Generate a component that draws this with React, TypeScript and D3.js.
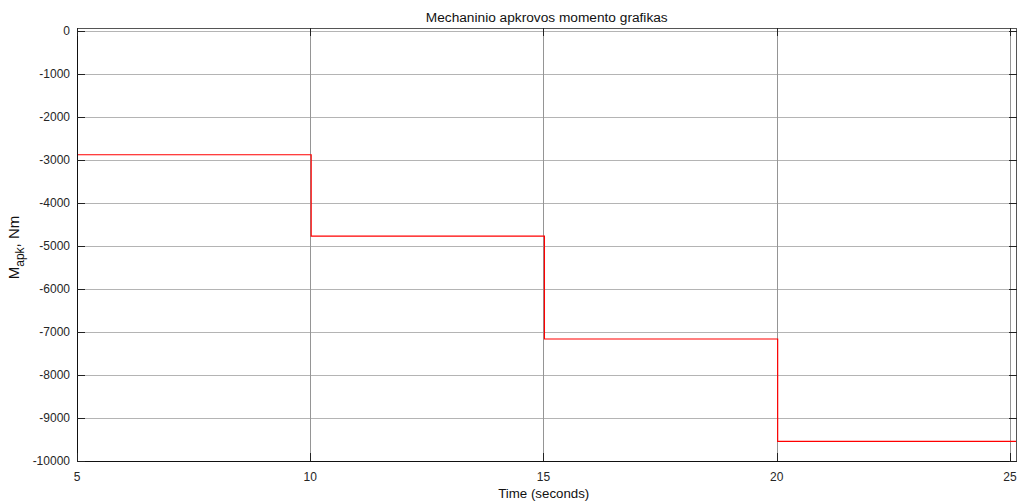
import React, { useEffect, useRef } from 'react';
import * as d3 from 'd3';

// Step load torque (Nm) over time (s)
const stepTimes = [5, 10.02, 15.02, 20.02, 25.14];
const torqueLevels = [-2885, -4775, -7165, -9545, -9545];
const xTicks = [5, 10, 15, 20, 25];
const yTicks = [0, -1000, -2000, -3000, -4000, -5000, -6000, -7000, -8000, -9000, -10000];
const xDomain = [5, 25.14];
const yDomain = [-10000, 60];

const titleText = 'Mechaninio apkrovos momento grafikas';
const xLabelText = 'Time (seconds)';

export default function App() {
  const ref = useRef<SVGSVGElement | null>(null);

  useEffect(() => {
    const svgEl = ref.current;
    if (!svgEl) return;
    const svg = d3.select(svgEl);
    svg.selectAll('*').remove();

    const width = 1019, height = 502;
    const left = 77, right = 1016.5, top = 28, bottom = 461;
    const font = '"Liberation Sans", Arial, sans-serif';

    const x = d3.scaleLinear().domain(xDomain).range([left, right]);
    const y = d3.scaleLinear().domain(yDomain).range([bottom, top]);

    svg.append('rect').attr('width', width).attr('height', height).attr('fill', '#fff');

    // Grid
    const grid = svg.append('g').attr('shape-rendering', 'crispEdges');
    grid.selectAll('.gy').data(yTicks).enter().append('line')
      .attr('x1', left).attr('x2', right)
      .attr('y1', d => Math.round(y(d)) + 0.5).attr('y2', d => Math.round(y(d)) + 0.5)
      .attr('stroke', '#b4b4b4').attr('stroke-width', 1);
    grid.selectAll('.gx').data(xTicks).enter().append('line')
      .attr('y1', top).attr('y2', bottom)
      .attr('x1', d => Math.round(x(d)) + 0.5).attr('x2', d => Math.round(x(d)) + 0.5)
      .attr('stroke', '#959595').attr('stroke-width', 1);

    // Data line
    const pts = stepTimes.map((t, i) => [t, torqueLevels[i]] as [number, number]);
    const line = d3.line<[number, number]>().x(d => x(d[0])).y(d => y(d[1])).curve(d3.curveStepAfter);
    svg.append('path').datum(pts).attr('fill', 'none').attr('stroke', '#ff0000').attr('stroke-width', 1.2).attr('d', line);

    // Box
    const box = svg.append('g').attr('shape-rendering', 'crispEdges');
    box.append('line').attr('x1', left).attr('x2', right).attr('y1', top + 0.5).attr('y2', top + 0.5).attr('stroke', '#555').attr('stroke-width', 1.5);
    box.append('line').attr('x1', right).attr('x2', right).attr('y1', top).attr('y2', bottom).attr('stroke', '#555').attr('stroke-width', 1.5);
    box.append('line').attr('x1', left).attr('x2', right).attr('y1', bottom + 0.5).attr('y2', bottom + 0.5).attr('stroke', '#111').attr('stroke-width', 1.2);
    box.append('line').attr('x1', left + 0.5).attr('x2', left + 0.5).attr('y1', top).attr('y2', bottom).attr('stroke', '#111').attr('stroke-width', 1.2);

    // Inward ticks
    const tl = 8;
    xTicks.forEach(t => {
      const xp = Math.round(x(t)) + 0.5;
      box.append('line').attr('x1', xp).attr('x2', xp).attr('y1', bottom).attr('y2', bottom - tl).attr('stroke', '#222');
      box.append('line').attr('x1', xp).attr('x2', xp).attr('y1', top).attr('y2', top + tl).attr('stroke', '#222');
    });
    yTicks.forEach(v => {
      const yp = Math.round(y(v)) + 0.5;
      box.append('line').attr('x1', left).attr('x2', left + tl).attr('y1', yp).attr('y2', yp).attr('stroke', '#222');
      box.append('line').attr('x1', right).attr('x2', right - tl).attr('y1', yp).attr('y2', yp).attr('stroke', '#222');
    });

    // Tick labels
    svg.selectAll('.xt').data(xTicks).enter().append('text')
      .attr('x', d => x(d)).attr('y', 480.5).attr('text-anchor', 'middle')
      .attr('font-family', font).attr('font-size', 12).attr('fill', '#262626')
      .text(d => String(d));
    svg.selectAll('.yt').data(yTicks).enter().append('text')
      .attr('x', 70).attr('y', d => y(d) + 4.2).attr('text-anchor', 'end')
      .attr('font-family', font).attr('font-size', 12).attr('fill', '#262626')
      .text(d => String(d));

    // Title and axis labels
    svg.append('text').attr('x', (left + right) / 2).attr('y', 22).attr('text-anchor', 'middle')
      .attr('font-family', font).attr('font-size', 13.7).attr('fill', '#111').text(titleText);
    svg.append('text').attr('x', (left + right) / 2 - 3).attr('y', 498).attr('text-anchor', 'middle')
      .attr('font-family', font).attr('font-size', 13.3).attr('fill', '#111').text(xLabelText);

    const yl = svg.append('text')
      .attr('transform', `translate(19,${(top + bottom) / 2 + 3}) rotate(-90)`)
      .attr('text-anchor', 'middle')
      .attr('font-family', font).attr('font-size', 15).attr('fill', '#111');
    yl.append('tspan').text('M');
    yl.append('tspan').attr('dy', 4.5).attr('font-size', 12).text('apk');
    yl.append('tspan').attr('dy', -4.5).text(', Nm');
  }, []);

  return (
    <svg ref={ref} width={1019} height={502}
      style={{ position: 'absolute', left: 0, top: 0, display: 'block' }} />
  );
}
